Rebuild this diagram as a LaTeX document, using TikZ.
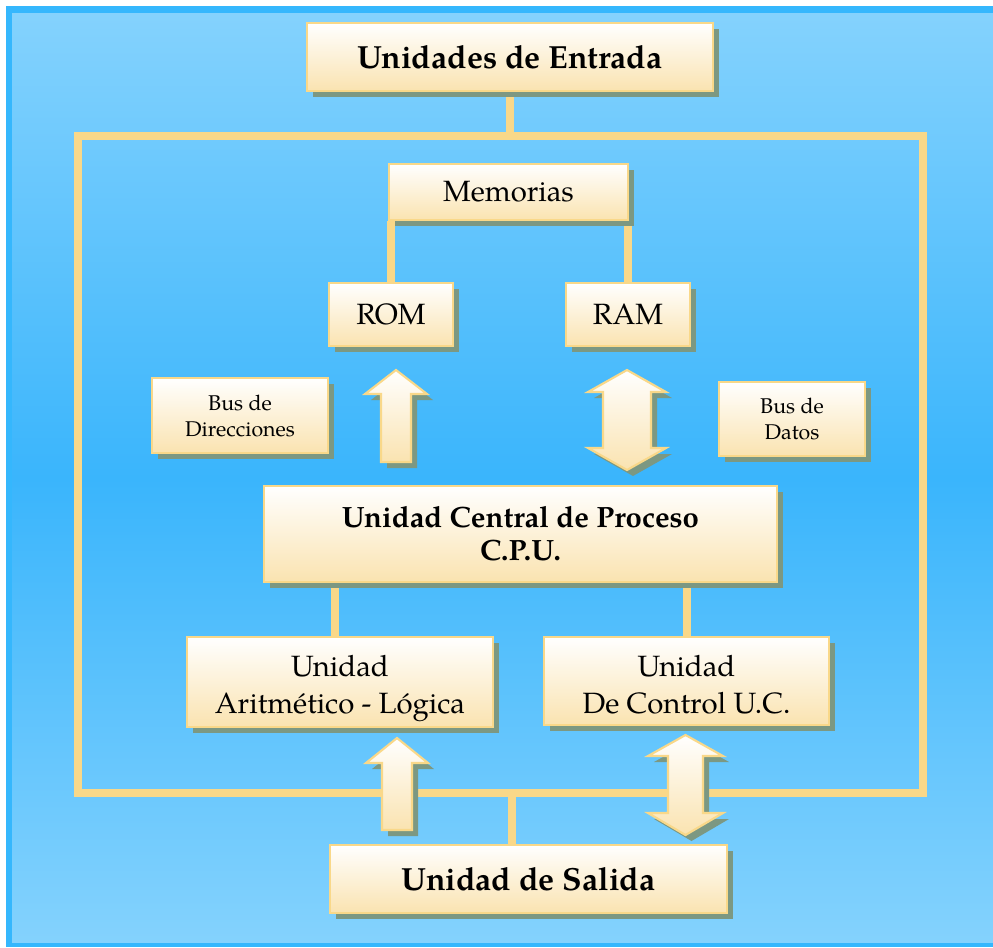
\documentclass[tikz,border=0pt]{standalone}
\usepackage{fontspec}
\setmainfont{TeX Gyre Pagella}
\usetikzlibrary{shadows,calc}

\definecolor{bgedge}{RGB}{53,183,253}
\definecolor{bgtop}{RGB}{132,210,253}
\definecolor{bgmid}{RGB}{58,181,252}
\definecolor{linkc}{RGB}{249,216,137}
\definecolor{boxbot}{RGB}{250,227,176}
\definecolor{shadowc}{RGB}{124,152,130}

\pgfdeclarelayer{base}
\pgfdeclarelayer{links}
\pgfsetlayers{base,links,main}

\tikzset{
  boxshadow/.style={drop shadow={shadow xshift=4.5pt, shadow yshift=-4.5pt, fill=shadowc, opacity=1}},
  card/.style={draw=linkc, line width=2pt, top color=white, bottom color=boxbot,
    inner sep=0pt, align=center, boxshadow},
  cardtext/.style={inner sep=0pt, align=center},
  link/.style={draw=linkc, line width=6pt},
  fatarrow/.style={draw=linkc, line width=1.6pt, line join=miter, top color=white,
    bottom color=boxbot, boxshadow},
  big/.style={font=\fontsize{24}{28}\selectfont\bfseries},
  mid/.style={font=\fontsize{22}{26}\selectfont},
  small/.style={font=\fontsize{16}{19.5}\selectfont},
}

\begin{document}
\begin{tikzpicture}[x=0.75pt,y=-0.75pt]
\useasboundingbox (0,0) rectangle (993,947);

% page background with its blue edge
\begin{pgfonlayer}{base}
\fill[white] (0,0) rectangle (993,947);
\fill[top color=bgtop, bottom color=bgtop, middle color=bgmid] (12,13) rectangle (993,943);
\fill[bgedge] (6,6) rectangle (12,947);
\fill[bgedge] (6,6) rectangle (993,13);
\fill[bgedge] (6,943) rectangle (993,947);
% surrounding bus frame
\node[link, inner sep=0pt, minimum width=633.75pt, minimum height=492.75pt] (frame) at (500.5,464.5) {};
\end{pgfonlayer}

% units
\node[card, big, minimum width=304.5pt, minimum height=51pt] (entrada) at (510,57) {Unidades de Entrada};
\node[card, mid, minimum width=179.25pt, minimum height=42pt] (mem) at (508.5,192) {Memorias};
\node[card, mid, minimum width=93pt, minimum height=47.25pt] (rom) at (391,314.5) {ROM};
\node[card, mid, minimum width=93pt, minimum height=47.25pt] (ram) at (628,314.5) {RAM};
\node[card, small, minimum width=132pt, minimum height=56.25pt] (busdir) at (240,415.5) {Bus de\\Direcciones};
\node[card, small, minimum width=109.5pt, minimum height=55.5pt] (busdat) at (792,419) {Bus de\\Datos};
\node[card, font=\fontsize{22}{24.75}\selectfont\bfseries, minimum width=384.75pt, minimum height=72pt] (cpu) at (520.5,534) {Unidad Central de Proceso\\C.P.U.};
\node[card, minimum width=229.5pt, minimum height=67.5pt] (alu) at (340,682) {};
\node[card, minimum width=213.75pt, minimum height=66pt] (uc) at (686.5,681) {};
\node[cardtext, font=\fontsize{22}{27.75}\selectfont] (alu-txt) at (340,688) {Unidad\\Aritmético - Lógica};
\node[cardtext, font=\fontsize{22}{27.75}\selectfont] (uc-txt) at (686.5,685) {Unidad\\De Control U.C.};
\node[card, big, minimum width=297.75pt, minimum height=51pt] (salida) at (528.5,879) {Unidad de Salida};

% attachment points that sit off the box centres
\coordinate (alu-in) at ($(alu.north)+(-5,0)$);
\coordinate (sal-in) at ($(salida.north)+(-16.5,0)$);

% connectors, kept behind the boxes
\begin{pgfonlayer}{links}
\draw[link] (entrada.south) -- (entrada.south |- frame.north);
\draw[link] (rom.north |- mem.south) -- (rom.north);
\draw[link] (ram.north |- mem.south) -- (ram.north);
\draw[link] (alu-in |- cpu.south) -- (alu-in);
\draw[link] (uc.north |- cpu.south) -- (uc.north);
\draw[link] (sal-in |- frame.south) -- (sal-in);
\end{pgfonlayer}

% bus arrows
\path[fatarrow] (396,370) -- (427,394) -- (411,394) -- (411,462) -- (381,462)
  -- (381,394) -- (365,394) -- cycle;
\path[fatarrow] (627,370) -- (666,392) -- (651,392) -- (651,448) -- (666,448)
  -- (627,470) -- (588,448) -- (603,448) -- (603,392) -- (588,392) -- cycle;
\path[fatarrow] (397,738) -- (428,763) -- (412,763) -- (412,830) -- (382,830)
  -- (382,763) -- (366,763) -- cycle;
\path[fatarrow] (685.5,735) -- (723,756) -- (703,756) -- (703,813) -- (723,813)
  -- (685.5,835) -- (648,813) -- (668,813) -- (668,756) -- (648,756) -- cycle;
\end{tikzpicture}
\end{document}
